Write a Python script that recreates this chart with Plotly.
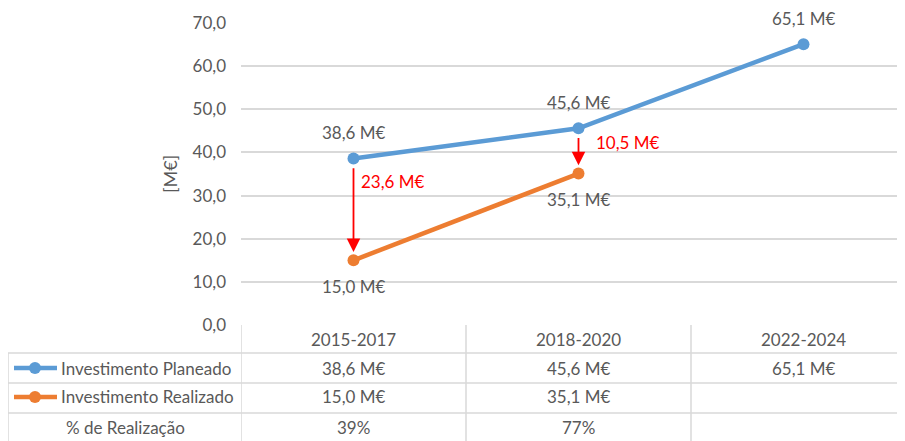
import plotly.graph_objects as go

periodos = ['2015-2017', '2018-2020', '2022-2024']
planeado = [38.6, 45.6, 65.1]
realizado = [15.0, 35.1, None]
nomes = ['Investimento Planeado', 'Investimento Realizado']
y_ticks = [0, 10, 20, 30, 40, 50, 60, 70]

AZUL = '#5B9BD5'
LARANJA = '#ED7D31'
CINZA = '#595959'
GRELHA = '#D9D9D9'
FONTE = 'Lato, Open Sans, sans-serif'
FS = 17

# a página tem 8px de margem no body: a área do gráfico fica em x 241..(fora), y 23..325
PW, PH = 672, 302


def meur(v):
    return f"{v:.1f}".replace('.', ',') + ' M€'


def py(px):
    # pixel vertical da janela -> coordenada paper
    return (325 - px) / PH


def pxx(px):
    return (px - 241) / PW


x = list(range(len(periodos)))

fig = go.Figure()
fig.add_trace(go.Scatter(x=x, y=planeado, mode='lines+markers', name=nomes[0],
                         line=dict(color=AZUL, width=4.5), marker=dict(size=12, color=AZUL)))
fig.add_trace(go.Scatter(x=x[:2], y=realizado[:2], mode='lines+markers', name=nomes[1],
                         line=dict(color=LARANJA, width=4.5), marker=dict(size=12, color=LARANJA)))

anns = []
shapes = []


def txt(xv, yv, t, xref='x', yref='y', **kw):
    d = dict(x=xv, y=yv, xref=xref, yref=yref, text=t, showarrow=False,
             xanchor='center', yanchor='middle', font=dict(size=FS, color=CINZA))
    d.update(kw)
    anns.append(d)


# rótulos de dados
for i, v in enumerate(planeado):
    txt(i, v, meur(v), yshift=26)
for i, v in enumerate(realizado):
    if v is not None:
        txt(i, v, meur(v), yshift=-26)

# setas vermelhas com a diferença
for i in range(2):
    p, r = planeado[i], realizado[i]
    anns.append(dict(x=i, y=r + 1.9, ax=i, ay=p - 1.9, xref='x', yref='y', axref='x', ayref='y',
                     showarrow=True, arrowhead=2, arrowsize=1.5, arrowwidth=1.8, arrowcolor='#FF0000',
                     text=''))
lbl_y = [planeado[0] - 5.4, planeado[1] - 3.2]
lbl_dx = [5, 15]
for i in range(2):
    txt(i, lbl_y[i], meur(planeado[i] - realizado[i]), xanchor='left', xshift=lbl_dx[i],
        font=dict(size=FS, color='#FF0000'))

# título do eixo y
txt(pxx(170), 0.5, '[M€]', xref='paper', yref='paper', textangle=-90, font=dict(size=18, color=CINZA))

# tabela de dados
row_y = [py(339), py(368), py(397), py(427)]
borders = [py(353), py(383), py(413)]
bottom = py(450)
left = pxx(8)
for i, p in enumerate(periodos):
    txt(i, row_y[0], p, yref='paper')
    txt(i, row_y[1], meur(planeado[i]), yref='paper')
    if realizado[i] is not None:
        txt(i, row_y[2], meur(realizado[i]), yref='paper')
        txt(i, row_y[3], f"{round(realizado[i] / planeado[i] * 100)}%", yref='paper')

for k, (nome, cor) in enumerate(zip(nomes, [AZUL, LARANJA])):
    yy = row_y[k + 1]
    txt(pxx(59), yy, nome, xref='paper', yref='paper', xanchor='left')
    shapes.append(dict(type='line', xref='paper', yref='paper', x0=pxx(14), x1=pxx(57), y0=yy, y1=yy,
                       line=dict(color=cor, width=4.5)))
    shapes.append(dict(type='circle', xref='paper', yref='paper', xsizemode='pixel', ysizemode='pixel',
                       xanchor=pxx(35), yanchor=yy, x0=-6, x1=6, y0=-6, y1=6,
                       fillcolor=cor, line=dict(width=0)))
txt(pxx(125), row_y[3], '% de Realização', xref='paper', yref='paper')

# linhas da tabela
for b in borders:
    shapes.append(dict(type='line', xref='paper', yref='paper', x0=left, x1=1.0, y0=b, y1=b,
                       line=dict(color=GRELHA, width=1.5)))
shapes.append(dict(type='line', xref='paper', yref='paper', x0=left, x1=left, y0=borders[0], y1=bottom,
                   line=dict(color=GRELHA, width=1.5)))
for xv in [-0.5, 0.5, 1.5]:
    shapes.append(dict(type='line', xref='x', yref='paper', x0=xv, x1=xv, y0=0, y1=bottom,
                       line=dict(color=GRELHA, width=1.5)))

fig.update_layout(
    width=905, height=441,
    margin=dict(l=233, r=0, t=15, b=124, autoexpand=False),
    plot_bgcolor='white', paper_bgcolor='white',
    showlegend=False,
    font=dict(family=FONTE, size=FS, color=CINZA),
    separators=',.',
    annotations=anns,
    shapes=shapes,
)
fig.update_xaxes(range=[-0.5, -0.5 + PW / 225], showticklabels=False, showgrid=False, zeroline=False,
                 showline=False, fixedrange=True)
fig.update_yaxes(range=[0, 70], tickvals=y_ticks, tickformat='.1f', showgrid=True, gridcolor=GRELHA,
                 gridwidth=1.5, zeroline=False, showline=False, ticks='', ticklabelstandoff=14,
                 tickfont=dict(size=FS, color=CINZA))

fig.write_html("out.html")
